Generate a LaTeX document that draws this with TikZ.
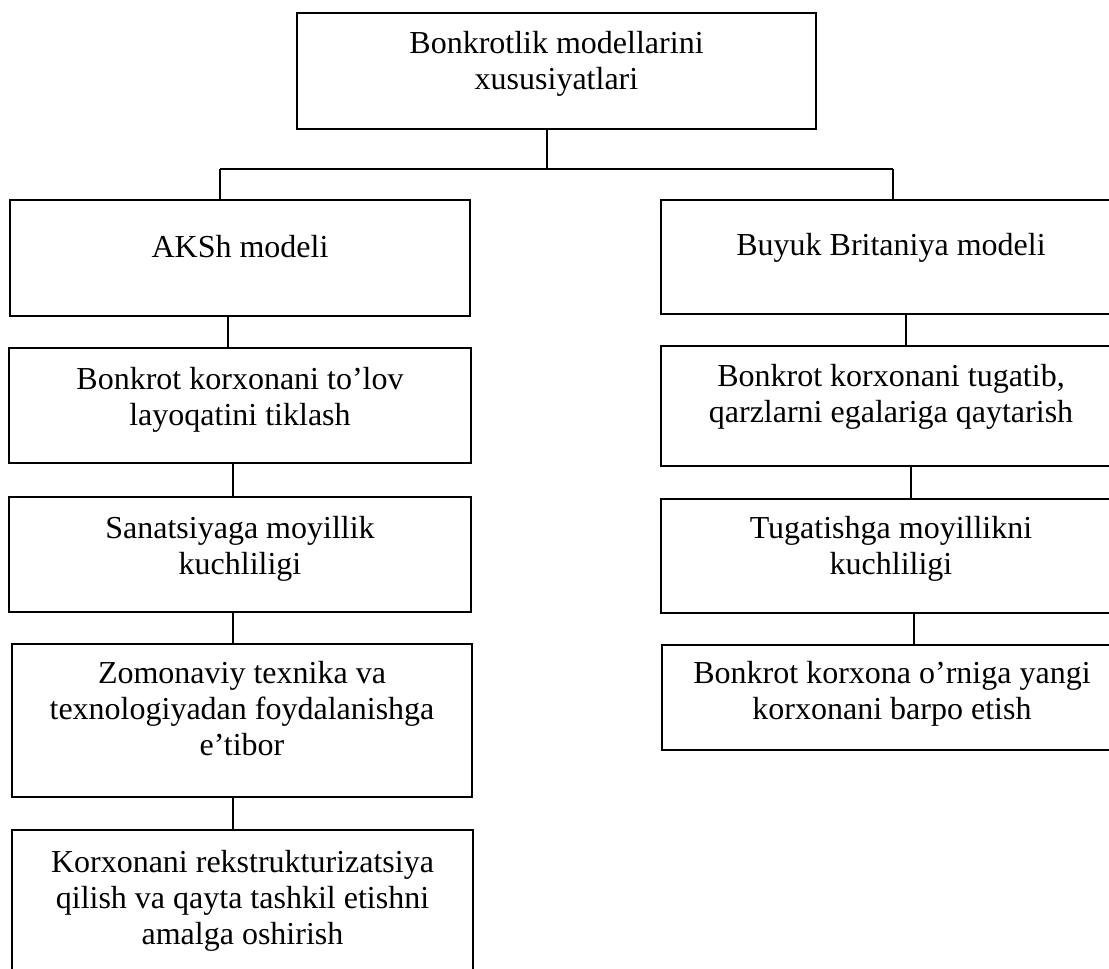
\documentclass[tikz,border=0pt]{standalone}
\usepackage{fontspec}
\setmainfont{Liberation Serif}
\usetikzlibrary{fit}
\begin{document}
\begin{tikzpicture}[x=0.75pt,y=-0.75pt,
  box/.style={draw=black, line width=1.5pt, inner sep=0pt},
  txt/.style={font=\fontsize{24pt}{27pt}\selectfont, align=center, inner sep=0pt, anchor=north},
  conn/.style={draw=black, line width=1.1pt}]
\clip (0,0) rectangle (1109,968);

% root
\node[box, fit={(297,13) (816,129)}] (root) {};
\node[txt] (root-t) at (556.5,27.8) {\strut Bonkrotlik modellarini\\xususiyatlari};

% left column
\node[box, fit={(10,200) (470,316)}] (usa) {};
\node[txt] (usa-t) at (240,231.8) {\strut AKSh modeli};
\node[box, fit={(9,348) (471,463)}] (l1) {};
\node[txt] (l1-t) at (240,363.8) {\strut Bonkrot korxonani to’lov\\layoqatini tiklash};
\node[box, fit={(9,497) (471,612)}] (l2) {};
\node[txt] (l2-t) at (240,512.8) {\strut Sanatsiyaga moyillik\\kuchliligi};
\node[box, fit={(12,644) (472,797)}] (l3) {};
\node[txt] (l3-t) at (242,657.8) {\strut Zomonaviy texnika va\\texnologiyadan foydalanishga\\e’tibor};
\node[box, fit={(12,830) (473,1000)}] (l4) {};
\node[txt] (l4-t) at (242.5,846.8) {\strut Korxonani rekstrukturizatsiya\\qilish va qayta tashkil etishni\\amalga oshirish};

% right column
\node[box, fit={(661,200) (1121,314)}] (uk) {};
\node[txt] (uk-t) at (891,229.8) {\strut Buyuk Britaniya modeli};
\node[box, fit={(661,346) (1121,466)}] (r1) {};
\node[txt] (r1-t) at (891,360.8) {\strut Bonkrot korxonani tugatib,\\qarzlarni egalariga qaytarish};
\node[box, fit={(661,499) (1121,613)}] (r2) {};
\node[txt] (r2-t) at (891,512.8) {\strut Tugatishga moyillikni\\kuchliligi};
\node[box, fit={(662,645) (1122,750)}] (r3) {};
\node[txt] (r3-t) at (892,657.8) {\strut Bonkrot korxona o’rniga yangi\\korxonani barpo etish};

% bus from the root to both models
\coordinate (busM) at (547,169);
\coordinate (busL) at (220,169);
\coordinate (busR) at (893,169);
\draw[conn] (root.south -| busM) -- (busM);
\draw[conn] (busL) -- (busR);
\draw[conn] (busL) -- (busL |- usa.north);
\draw[conn] (busR) -- (busR |- uk.north);

% left chain
\coordinate (cl1) at (228,0);
\coordinate (cl2) at (233,0);
\draw[conn] (usa.south -| cl1) -- (l1.north -| cl1);
\draw[conn] (l1.south -| cl2) -- (l2.north -| cl2);
\draw[conn] (l2.south -| cl2) -- (l3.north -| cl2);
\draw[conn] (l3.south -| cl2) -- (l4.north -| cl2);

% right chain
\coordinate (cr1) at (906,0);
\coordinate (cr2) at (911,0);
\coordinate (cr3) at (914,0);
\draw[conn] (uk.south -| cr1) -- (r1.north -| cr1);
\draw[conn] (r1.south -| cr2) -- (r2.north -| cr2);
\draw[conn] (r2.south -| cr3) -- (r3.north -| cr3);
\end{tikzpicture}
\end{document}
